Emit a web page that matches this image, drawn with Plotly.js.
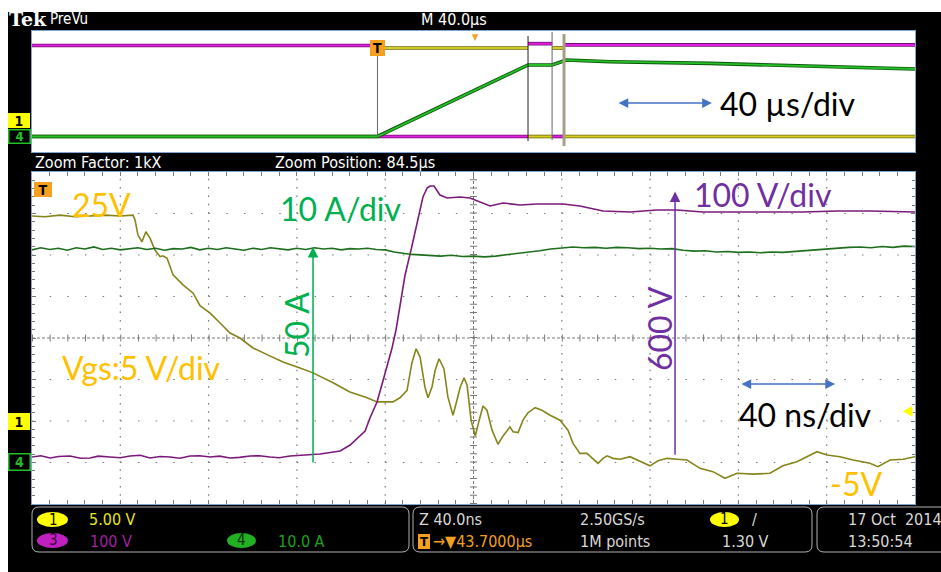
<!DOCTYPE html>
<html><head><meta charset="utf-8">
<script src="https://cdn.plot.ly/plotly-3.0.1.min.js"></script>
<style>html,body{margin:0;padding:0;background:#fff;}#chart{width:941px;height:572px;}</style>
</head><body><div id="chart"></div>
<script>
// ---------- Zoomed acquisition (time in ns across the 10-division window) ----------
const vgsTime = [0,5.9,12.7,19.5,26.3,33.1,39.9,45.8,46.7,48.0,49.8,51.6,53.5,55.7,58.0,59.3,61.2,63.9,68.4,73.0,76.1,80.7,85.2,89.7,94.2,100.1,106.5,113.7,121.4,127.3,136.4,144.0,151.8,156.3,163.5,166.7,169.9,172.1,174.0,175.8,178.0,179.4,181.2,182.6,184.4,186.6,188.4,190.7,192.5,193.9,195.7,197.1,198.9,200.8,202.0,204.3,206.1,208.4,211.1,213.4,216.5,217.9,220.2,222.4,224.7,227.9,231.0,234.7,239.2,242.8,245.1,248.2,251.4,254.1,256.4,258.7,260.5,263.2,266.4,270.9,275.4,279.9,283.6,287.7,292.2,296.7,302.6,308.5,313.9,319.4,326.6,334.3,340.2,346.5,355.6,360.1,366.0,371.9,379.6,383.2,388.7,394.6,400.0];
const vgsVolt = [24.7,24.6,24.8,24.6,24.7,24.8,24.7,24.8,24.2,22.4,21.6,22.8,22.0,20.6,19.8,19.9,19.6,17.6,16.4,15.4,13.9,13.0,11.8,10.6,10.0,8.8,8.0,7.1,6.4,5.8,4.6,3.5,2.8,2.3,2.3,2.8,3.7,7.0,8.7,7.7,4.1,2.8,4.1,6.1,7.5,6.3,2.9,0.7,2.5,4.0,5.2,4.3,0.1,-1.8,-0.5,1.8,1.3,-1.1,-2.8,-1.8,-0.7,-1.3,-1.4,0.1,1.0,1.6,1.3,0.7,0.1,-1.1,-2.7,-3.9,-3.9,-4.5,-5.1,-4.5,-4.2,-4.5,-4.6,-4.3,-4.9,-5.4,-4.8,-4.5,-4.6,-4.7,-5.7,-6.1,-6.9,-6.3,-6.4,-6.3,-5.4,-4.9,-3.7,-4.1,-4.3,-4.7,-5.1,-5.5,-4.7,-4.6,-4.3];

const vdsTime = [0,4,8.2,12,17.2,22,26.3,30,35.3,40,44.4,49,53.5,58,62.5,67,71.6,76,80.7,85,89.7,94,98.8,103,107.8,112,116.9,120,123.7,127,130.5,133,136.4,139.6,144.1,148.6,150.9,153.1,156.3,159.1,161.3,163.1,164.9,169.0,171.7,174.4,177.1,179.0,180.3,182.1,183.5,184.8,188.0,193.9,198.4,204.3,207.5,213.4,221.1,228.8,240.5,248.2,258.7,270.9,283.1,292.2,303.9,319.4,334.3,349.3,364.7,379.6,400];
const vdsVolt = [0,3,-2.4,1,2.4,-3,-2.4,2,0,-2,2.4,4,-2.4,1,0,-3,2.4,3,0,2,-2.4,-1,2.4,3,0,-2,2.4,3,4.8,6,7.2,9,12.0,14.5,28.9,50.6,62.7,94.0,132.5,185.5,228.9,262.7,306.0,438.6,498.8,559.0,626.5,648.2,653.0,653.0,641.0,631.3,624.1,626.5,624.1,612.0,604.8,612.0,607.2,609.6,609.6,604.8,592.8,590.4,595.2,595.2,590.4,590.4,590.4,590.4,592.8,592.8,590.4];

const idTime = [0,4,8,12,16,20,24,28,32,36,40,44,48,52,56,60,64,68,72,76,80,84,88,92,96,100,104,108,112,116,120,124,128,132,136,140,144,148,152,156,160,164,168,172,176,180,185,190,195,200,205,210,215,220,225,230,235,240,245,250,255,260,265,270,275,280,285,290,295,300,305,310,315,320,325,330,335,340,345,350,355,360,365,370,375,380,385,390,395,400];
const idAmp = [50.4,50.9,50.5,50.8,50.3,50.9,50.6,51.1,50.5,50.8,50.4,50.7,50.9,50.5,50.8,50.3,50.7,50.6,51.0,50.4,50.8,50.5,50.9,50.6,50.3,50.8,50.5,50.9,50.6,50.4,50.8,50.5,50.9,50.6,50.8,50.4,50.7,50.6,50.8,50.5,50.4,49.9,49.6,49.3,49.2,49.0,48.9,49.1,48.8,48.9,48.7,48.9,49.2,49.5,49.9,50.2,50.6,50.9,51.1,50.9,51.0,50.8,51.0,50.9,50.7,50.8,50.6,50.7,50.3,50.1,50.2,49.9,50.0,49.8,49.9,49.7,49.9,49.8,50.0,50.2,50.4,50.6,50.9,51.0,51.1,50.9,51.2,51.0,51.3,51.2];

// ---------- PreVu overview (time in µs relative to trigger); null = edge not drawn ----------
const preTime = [-156.5,0,null,0,68.2,null,68.2,79.1,null,79.1,84.5,null,84.5,243.5];
const preVgs  = [-5,-5,null,25,25,null,-5,-5,null,25,25,null,-5,-5];
const preVds  = [600,600,null,0,0,null,612,612,null,0,0,null,604,604];
const preIdTime = [-156.5,0,68.2,79.1,85.5,105.3,150.6,177.8,208.2,243.5];
const preId     = [0,0,48.0,48.0,51.3,50.2,49.1,48.0,46.4,45.3];
const zoomPosition = 84.5;

// ---------- screen graticule (10 x 8 divisions) ----------
const timePerDiv = 40;      // ns/div
const hDivs = 10, vDivs = 8;

// ---------- helpers for pixel placement of decorations ----------
const P = x => (x - 32) / 883;
const Q = y => (572 - y) / 572;
const NARROW = '"Liberation Sans Narrow", "DejaVu Sans Condensed", sans-serif';
const CAL = 'Lato, "Open Sans", sans-serif';
const UI = '#d9d9d9';

const traces = [
  {x: preIdTime, y: preId, xaxis:'x2', yaxis:'y6', mode:'lines', line:{color:'#0c560c', width:3.6}},
  {x: preIdTime, y: preId, xaxis:'x2', yaxis:'y6', mode:'lines', line:{color:'#26c026', width:1.8}},
  {x: preTime, y: preVds, xaxis:'x2', yaxis:'y5', mode:'lines', connectgaps:false, line:{color:'#701070', width:3.6}},
  {x: preTime, y: preVds, xaxis:'x2', yaxis:'y5', mode:'lines', connectgaps:false, line:{color:'#e21ee2', width:2}},
  {x: preTime, y: preVgs, xaxis:'x2', yaxis:'y4', mode:'lines', connectgaps:false, line:{color:'#6e6a10', width:3.6}},
  {x: preTime, y: preVgs, xaxis:'x2', yaxis:'y4', mode:'lines', connectgaps:false, line:{color:'#d4cc20', width:2}},
  {x: idTime, y: idAmp, xaxis:'x', yaxis:'y3', mode:'lines', line:{color:'#1e6e1e', width:1.6}},
  {x: vgsTime, y: vgsVolt, xaxis:'x', yaxis:'y', mode:'lines', line:{color:'#85851c', width:1.6}},
  {x: vdsTime, y: vdsVolt, xaxis:'x', yaxis:'y2', mode:'lines', line:{color:'#7c1a7c', width:1.6}}
];

function txt(text, x, y, size, color, extra) {
  return Object.assign({text, x:P(x), y:Q(y), xref:'paper', yref:'paper', showarrow:false,
    xanchor:'left', yanchor:'middle', font:{family:NARROW, size, color}}, extra || {});
}
function ctr(text, x, y, size, color) {
  return txt(text, x, y, size, color, {xanchor:'center'});
}
function big(text, x, y, color, extra) {
  return Object.assign(txt(text, x, y, 32, color), {font:{family:CAL, size:32, color}}, extra || {});
}
function badge(text, x, y, bg, fg, border, w, h, size) {
  return {text:'<b>'+text+'</b>', x:P(x), y:Q(y), xref:'paper', yref:'paper', showarrow:false,
    xanchor:'center', yanchor:'middle', bgcolor:bg, bordercolor:border, borderwidth:border==='rgba(0,0,0,0)'?0:1.5,
    width:w, height:h, borderpad:0, font:{family:NARROW, size:size||14, color:fg}};
}
function rr(x0, y0, x1, y1, r) {
  return 'M'+P(x0+r)+','+Q(y0)+' L'+P(x1-r)+','+Q(y0)+' Q'+P(x1)+','+Q(y0)+' '+P(x1)+','+Q(y0+r)+
    ' L'+P(x1)+','+Q(y1-r)+' Q'+P(x1)+','+Q(y1)+' '+P(x1-r)+','+Q(y1)+' L'+P(x0+r)+','+Q(y1)+
    ' Q'+P(x0)+','+Q(y1)+' '+P(x0)+','+Q(y1-r)+' L'+P(x0)+','+Q(y0+r)+' Q'+P(x0)+','+Q(y0)+' '+P(x0+r)+','+Q(y0)+' Z';
}
function ell(x0, y0, x1, y1, c) {
  return {type:'circle', xref:'paper', yref:'paper', x0:P(x0), x1:P(x1), y0:Q(y1), y1:Q(y0), fillcolor:c, line:{width:0}, layer:'above'};
}

const annotations = [
  // header
  {text:'<b>Tek</b>', x:P(7), y:Q(19), xref:'paper', yref:'paper', showarrow:false, xanchor:'left', yanchor:'middle', font:{family:'"DejaVu Serif", serif', size:19, color:'#fff'}},
  txt('PreVu', 48, 19, 15, '#fff'),
  txt('M 40.0µs', 419, 19, 16, '#fff'),
  ctr('▼', 475, 37, 9, '#f5a020'),
  txt('Zoom Factor: 1kX', 33, 162, 16, '#fff'),
  txt('Zoom Position: 84.5µs', 273, 162, 16, '#fff'),
  // PreVu overlays
  badge('T', 377, 48, '#f5a020', '#000', 'rgba(0,0,0,0)', 15, 16, 14),
  badge('1', 19, 120, '#ffff00', '#000', 'rgba(0,0,0,0)', 22, 15, 14),
  badge('4', 19, 137, '#000', '#22c022', '#22c022', 20, 12, 13),
  big('40 µs/div', 718, 103, '#000'),
  {x:151.5, xref:'x2', y:Q(103), yref:'paper', ax:108.5, axref:'x2', ay:0, ayref:'pixel', text:'', showarrow:true,
    arrowside:'end+start', arrowhead:2, arrowsize:1.3, arrowwidth:1.5, arrowcolor:'#4472c4', standoff:0, startstandoff:0},
  // main overlays
  badge('T', 43, 189, '#f5a020', '#000', 'rgba(0,0,0,0)', 18, 15, 14),
  badge('1', 19, 421, '#ffff00', '#000', 'rgba(0,0,0,0)', 22, 17, 14),
  badge('4', 19, 462, '#000', '#22c022', '#22c022', 20, 15, 14),
  txt('◀', 901, 410, 14, '#ffff00'),
  big('25V', 70, 204, '#FFC000'),
  big('10 A/div', 278, 208, '#00B050'),
  big('50 A', 297, 325, '#00B050', {textangle:-90, xanchor:'center'}),
  big('Vgs:5 V/div', 60, 367, '#FFC000'),
  big('100 V/div', 692, 194, '#7030A0'),
  big('600 V', 659, 329, '#7030A0', {textangle:-90, xanchor:'center'}),
  big('40 ns/div', 737, 414, '#000'),
  big('-5V', 828, 483, '#FFC000'),
  {x:127.3, xref:'x', y:51.1, yref:'y3', ax:127.3, axref:'x', ay:-1.2, ayref:'y3', text:'', showarrow:true,
    arrowhead:2, arrowsize:1.4, arrowwidth:1.5, arrowcolor:'#00B050', standoff:0},
  {x:291.3, xref:'x', y:640, yref:'y2', ax:291.3, axref:'x', ay:2, ayref:'y2', text:'', showarrow:true,
    arrowhead:2, arrowsize:1.4, arrowwidth:1.5, arrowcolor:'#7030A0', standoff:0},
  {x:363.8, xref:'x', y:Q(384), yref:'paper', ax:320.7, axref:'x', ay:0, ayref:'pixel', text:'', showarrow:true,
    arrowside:'end+start', arrowhead:2, arrowsize:1.3, arrowwidth:1.5, arrowcolor:'#4472c4', standoff:0, startstandoff:0},
  // status bar
  ctr('1', 53, 520, 15, '#000'),
  ctr('3', 53, 540, 15, '#3a003a'),
  ctr('4', 241, 540, 15, '#003000'),
  ctr('1', 724, 519, 15, '#000'),
  txt('5.00 V', 87, 519, 16, '#e6e620'),
  txt('100 V', 88, 541, 16, '#a020a0'),
  txt('10.0 A', 276, 541, 16, '#1ea01e'),
  txt('Z 40.0ns', 417, 519, 16, UI),
  badge('T', 424, 541, '#f5a020', '#000', 'rgba(0,0,0,0)', 12, 15, 13),
  txt('→▼43.7000µs', 431, 541, 16, '#f0a020'),
  txt('2.50GS/s', 578, 519, 16, UI),
  txt('1M points', 578, 541, 16, UI),
  txt('/', 750, 519, 16, UI),
  txt('1.30 V', 720, 541, 16, UI),
  txt('17 Oct  2014', 846, 519, 16, UI),
  txt('13:50:54', 846, 541, 16, UI)
];

const GRID = '#7a7a7a';
const shapes = [];
// dotted graticule lines
for (let i = 1; i < hDivs; i++) {
  if (i === hDivs / 2) continue;
  shapes.push({type:'line', xref:'x', yref:'y domain', x0:i*timePerDiv, x1:i*timePerDiv, y0:0, y1:1,
    line:{color:GRID, width:1.2, dash:'1.5px,6.8px'}, layer:'below'});
}
for (let j = 1; j < vDivs; j++) {
  if (j === vDivs / 2) continue;
  shapes.push({type:'line', xref:'x domain', yref:'y domain', x0:0, x1:1, y0:j/vDivs, y1:j/vDivs,
    line:{color:GRID, width:1.2, dash:'1.5px,16.16px'}, layer:'below'});
}
shapes.push(
  // centre cross with minor-division ticks
  {type:'line', xref:'x domain', yref:'y domain', x0:0.5, x1:0.5, y0:0, y1:1, line:{color:GRID, width:1, dash:'3px,2px'}, layer:'below'},
  {type:'line', xref:'x domain', yref:'y domain', x0:0, x1:1, y0:0.5, y1:0.5, line:{color:GRID, width:1, dash:'3px,2px'}, layer:'below'},
  {type:'line', xref:'x domain', yref:'y domain', x0:0.5, x1:0.5, y0:0, y1:1, line:{color:GRID, width:7, dash:'1px,7.3px'}, layer:'below'},
  {type:'line', xref:'x domain', yref:'y domain', x0:0, x1:1, y0:0.5, y1:0.5, line:{color:GRID, width:7, dash:'1px,16.66px'}, layer:'below'},
  // white photo margins
  {type:'rect', xref:'paper', yref:'paper', x0:P(0), x1:P(941), y0:Q(12), y1:Q(0), fillcolor:'#fff', line:{width:0}, layer:'above'},
  {type:'rect', xref:'paper', yref:'paper', x0:P(0), x1:P(8), y0:Q(572), y1:Q(0), fillcolor:'#fff', line:{width:0}, layer:'above'},
  // PreVu edge / marker lines
  {type:'line', xref:'x2', yref:'paper', x0:preTime[1], x1:preTime[1], y0:Q(137), y1:Q(56), line:{color:'#666', width:1}, layer:'above'},
  {type:'line', xref:'x2', yref:'paper', x0:preTime[4], x1:preTime[4], y0:Q(141), y1:Q(36), line:{color:'#222', width:1}, layer:'above'},
  {type:'line', xref:'x2', yref:'paper', x0:preTime[7], x1:preTime[7], y0:Q(140), y1:Q(32), line:{color:'#666', width:1}, layer:'above'},
  {type:'line', xref:'x2', yref:'paper', x0:zoomPosition, x1:zoomPosition, y0:Q(146), y1:Q(34), line:{color:'#a89e88', width:3}, layer:'above'},
  // status bar frames
  {type:'path', xref:'paper', yref:'paper', path:rr(32,507,409,552,7), line:{color:'#b0b0b0', width:1}, layer:'above'},
  {type:'path', xref:'paper', yref:'paper', path:rr(413,507,812,552,7), line:{color:'#b0b0b0', width:1}, layer:'above'},
  {type:'path', xref:'paper', yref:'paper', path:rr(817,507,960,552,7), line:{color:'#b0b0b0', width:1}, layer:'above'},
  ell(37,512,68,527,'#ffff00'),
  ell(37,533,68,548,'#c020c0'),
  ell(227,533,256,548,'#22b022'),
  ell(710,512,739,527,'#ffff00')
);

const frame = {showline:true, mirror:true, linecolor:'#7fa6d0', linewidth:1, zeroline:false, showticklabels:false, fixedrange:true, showgrid:false};

const layout = {
  width:941, height:572, margin:{l:32, r:26, t:0, b:0}, showlegend:false,
  paper_bgcolor:'#000', plot_bgcolor:'#fff',
  xaxis: Object.assign({}, frame, {domain:[0,1], range:[0, hDivs*timePerDiv], anchor:'y',
    dtick:timePerDiv, tick0:0, ticks:'inside', ticklen:4, tickcolor:GRID, mirror:'allticks',
    minor:{ticks:'inside', dtick:timePerDiv/5, ticklen:3, tickcolor:GRID, showgrid:false}}),
  yaxis: Object.assign({}, frame, {domain:[Q(504), Q(172)], range:[-10,30], anchor:'x',
    dtick:5, tick0:0, ticks:'inside', ticklen:4, tickcolor:GRID, mirror:'allticks',
    minor:{ticks:'inside', dtick:1, ticklen:3, tickcolor:GRID, showgrid:false}}),
  yaxis2: {overlaying:'y', anchor:'x', range:[-113.3, 686.7], visible:false, fixedrange:true},
  yaxis3: {overlaying:'y', anchor:'x', range:[-10.84, 69.16], visible:false, fixedrange:true},
  xaxis2: Object.assign({}, frame, {domain:[0,1], range:[-156.5, 243.5], anchor:'y4', ticks:''}),
  yaxis4: Object.assign({}, frame, {domain:[Q(152), Q(31)], range:[-10.25, 30.76], anchor:'x2', ticks:''}),
  yaxis5: {overlaying:'y4', anchor:'x2', range:[-102.2, 695.6], visible:false, fixedrange:true},
  yaxis6: {overlaying:'y4', anchor:'x2', range:[-10.4, 70.8], visible:false, fixedrange:true},
  annotations, shapes
};

Plotly.newPlot('chart', traces, layout, {staticPlot:true, displayModeBar:false});
</script></body></html>
